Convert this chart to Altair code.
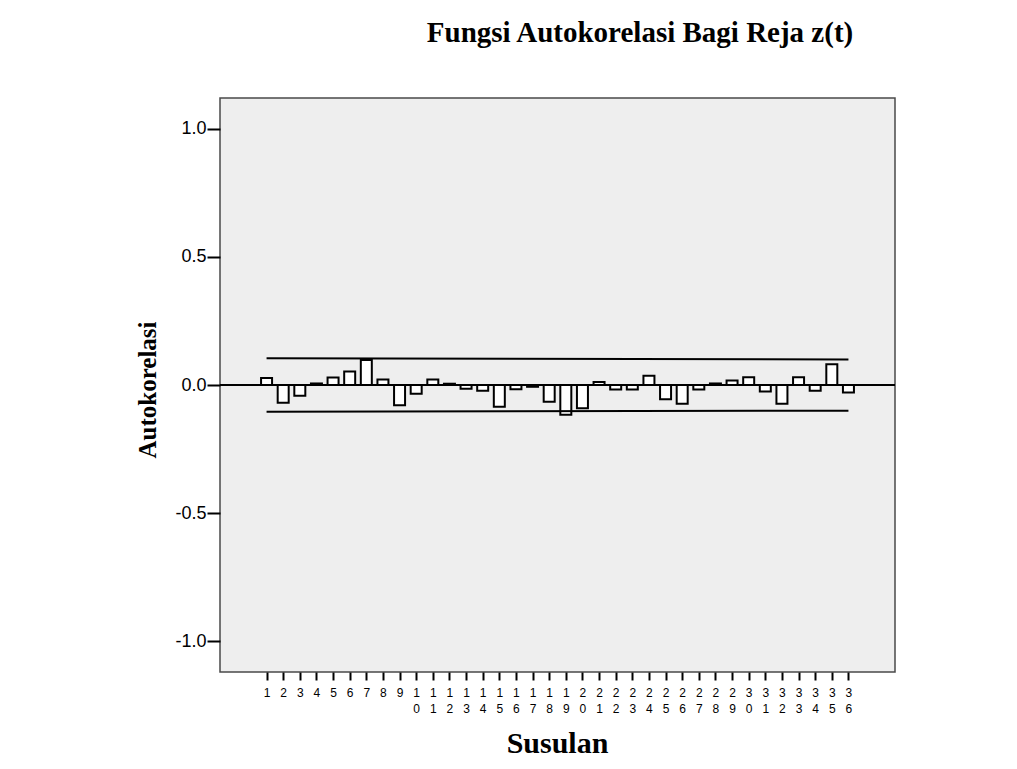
import altair as alt
import pandas as pd

# ---- data ----
lags = list(range(1, 37))
acf = [0.027, -0.069, -0.042, 0.006, 0.029, 0.053, 0.098, 0.021, -0.079,
       -0.034, 0.021, 0.005, -0.015, -0.022, -0.085, -0.017, -0.007, -0.065,
       -0.116, -0.091, 0.012, -0.018, -0.018, 0.036, -0.056, -0.073, -0.018,
       0.006, 0.018, 0.030, -0.025, -0.073, 0.030, -0.022, 0.081, -0.029]
limit_lags = [1, 36]
upper_limit = [0.104, 0.100]
lower_limit = [-0.104, -0.100]
y_ticks = [-1.0, -0.5, 0.0, 0.5, 1.0]

title_text = "Fungsi Autokorelasi Bagi Reja z(t)"
x_title = "Susulan"
y_title = "Autokorelasi"

W, H = 675, 574
SANS = "Liberation Sans"
SERIF = "Liberation Serif"

bars_df = pd.DataFrame({"lag": lags, "acf": acf})
lim_df = pd.DataFrame({
    "lag": limit_lags + limit_lags,
    "val": upper_limit + lower_limit,
    "which": ["upper"] * len(limit_lags) + ["lower"] * len(limit_lags),
})
zero_df = pd.DataFrame({"y": [0.0]})

xscale = alt.Scale(domain=[-1.5, 38.5], nice=False, zero=False)
yscale = alt.Scale(domain=[-1.12, 1.12], nice=False, zero=False)

xaxis = alt.Axis(
    values=lags, tickCount=100, title=None, grid=False, domain=False,
    labelExpr="split(toString(datum.value), '')",
    labelFont=SANS, labelFontSize=12, labelColor="#000000",
    labelLineHeight=16, labelPadding=7, labelOverlap=False,
    tickSize=8, tickWidth=2, tickColor="#000000", labelFlush=False,
)
yaxis = alt.Axis(
    values=y_ticks, tickCount=20, title=None, grid=False, domain=False,
    labelExpr="replace(format(datum.value, '.1f'), '\u2212', '-')",
    labelFont=SANS, labelFontSize=18, labelColor="#000000",
    labelPadding=1, tickSize=13, tickWidth=2, tickColor="#000000",
    labelOverlap=False,
)

bars = alt.Chart(bars_df).mark_bar(
    size=11, fill="#ffffff", stroke="#000000", strokeWidth=2
).encode(
    x=alt.X("lag:Q", scale=xscale, axis=xaxis),
    y=alt.Y("acf:Q", scale=yscale, axis=yaxis),
    y2=alt.datum(0),
)

limits = alt.Chart(lim_df).mark_line(color="#000000", strokeWidth=2).encode(
    x=alt.X("lag:Q", scale=xscale),
    y=alt.Y("val:Q", scale=yscale),
    detail="which:N",
)

zero = alt.Chart(zero_df).mark_rule(color="#000000", strokeWidth=2).encode(
    y=alt.Y("y:Q", scale=yscale),
)

title = alt.Chart(pd.DataFrame({"t": [title_text]})).mark_text(
    font=SERIF, fontSize=29, fontWeight="bold", color="#000000",
    align="center", baseline="alphabetic",
).encode(text="t:N", x=alt.value(420), y=alt.value(-56))

xt = alt.Chart(pd.DataFrame({"t": [x_title]})).mark_text(
    font=SERIF, fontSize=30, fontWeight="bold", color="#000000",
    align="center", baseline="middle",
).encode(text="t:N", x=alt.value(W / 2), y=alt.value(H + 72))

yt = alt.Chart(pd.DataFrame({"t": [y_title]})).mark_text(
    font=SERIF, fontSize=25, fontWeight="bold", color="#000000",
    align="center", baseline="middle", angle=270,
).encode(text="t:N", x=alt.value(-72), y=alt.value(292))

chart = alt.layer(bars, limits, zero, title, xt, yt).properties(
    width=W, height=H,
    autosize=alt.AutoSizeParams(type="none"),
    padding={"left": 212, "top": 90, "right": 114, "bottom": 88},
    background="#ffffff",
).configure_view(
    fill="#eeeeee", stroke="#4a4a4a", strokeWidth=1.5,
)

chart.save("out.html", embed_options={"renderer": "svg", "actions": False})
